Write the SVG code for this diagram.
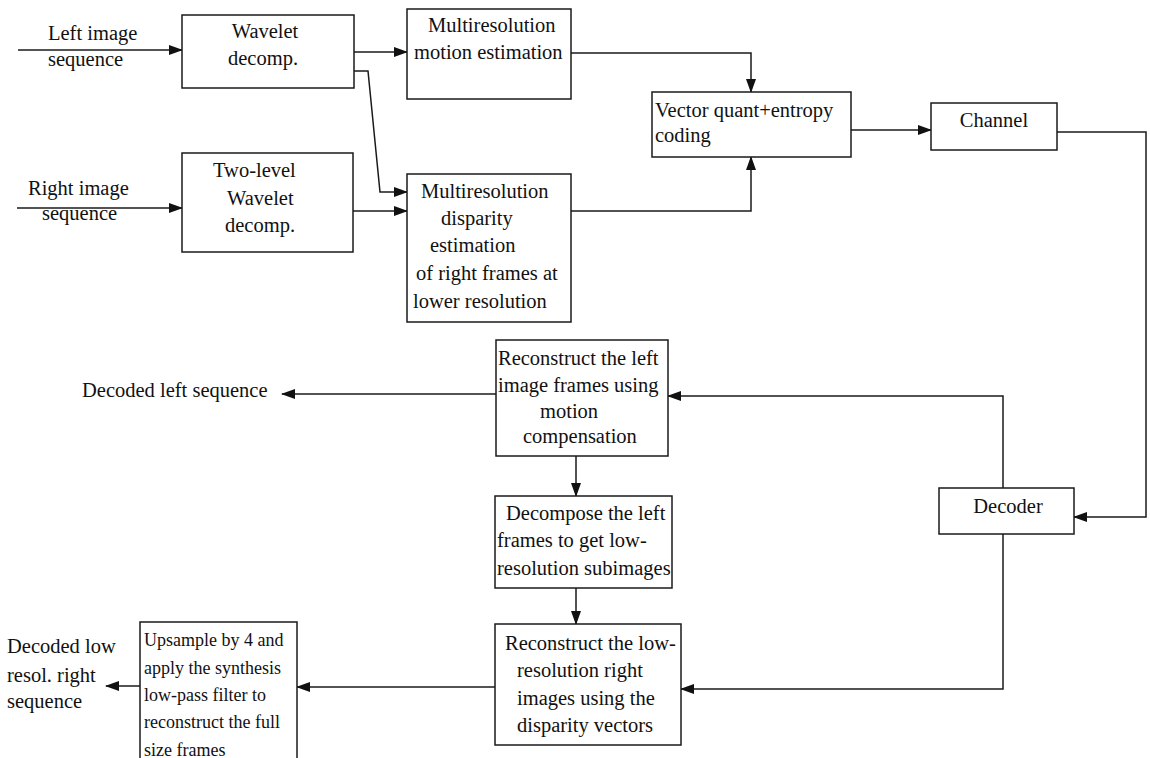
<svg xmlns="http://www.w3.org/2000/svg" width="1150" height="758" viewBox="0 0 1150 758">
  <style>
    .box { fill: #ffffff; stroke: #1a1a1a; stroke-width: 1.5; }
    .lbl { font-family: "Liberation Serif", "Times New Roman", serif; font-size: 20.5px; fill: #111111; }
    .sm { font-family: "Liberation Serif", "Times New Roman", serif; font-size: 18px; fill: #111111; }
    .mid { text-anchor: middle; }
    .wire { fill: none; stroke: #1a1a1a; stroke-width: 1.5; marker-end: url(#arrow); }
  </style>
  <defs>
    <marker id="arrow" viewBox="0 0 14 10" refX="13" refY="5" markerWidth="14" markerHeight="10" markerUnits="userSpaceOnUse" orient="auto">
      <path d="M0,0 L14,5 L0,10 Z" fill="#111111"/>
    </marker>
  </defs>
  <rect width="1150" height="758" fill="#ffffff"/>

  <!-- connectors -->
  <g id="connectors">
    <path class="wire" d="M18,50 H182"/>
    <path class="wire" d="M17,208 H182"/>
    <path class="wire" d="M354,52 H407"/>
    <path class="wire" d="M354,71 H368 L380,192 H407"/>
    <path class="wire" d="M353,211 H407"/>
    <path class="wire" d="M571,53 H751 V92"/>
    <path class="wire" d="M571,211 H751 V157"/>
    <path class="wire" d="M851,130 H931"/>
    <path class="wire" d="M1057,132 H1146 V517 H1074"/>
    <path class="wire" d="M1003,488 V396 H668"/>
    <path class="wire" d="M496,394 H282"/>
    <path class="wire" d="M576,456 V496"/>
    <path class="wire" d="M576,588 V624"/>
    <path class="wire" d="M1003,534 V689 H681"/>
    <path class="wire" d="M495,687 H297"/>
    <path class="wire" d="M140,686 H106"/>
  </g>

  <!-- free labels -->
  <g id="input-left">
    <text class="lbl" x="48" y="40">Left image</text>
    <text class="lbl" x="48" y="66">sequence</text>
  </g>
  <g id="input-right">
    <text class="lbl" x="28" y="195">Right image</text>
    <text class="lbl" x="42" y="220">sequence</text>
  </g>
  <g id="output-left">
    <text class="lbl" x="82" y="397">Decoded left sequence</text>
  </g>
  <g id="output-right">
    <text class="lbl" x="7" y="653">Decoded low</text>
    <text class="lbl" x="7" y="682">resol. right</text>
    <text class="lbl" x="7" y="708">sequence</text>
  </g>

  <!-- encoder -->
  <g id="wavelet">
    <rect class="box" x="182" y="15" width="172" height="73"/>
    <text class="lbl mid" x="265" y="38">Wavelet</text>
    <text class="lbl mid" x="263" y="65">decomp.</text>
  </g>
  <g id="two-level-wavelet">
    <rect class="box" x="182" y="153" width="171" height="99"/>
    <text class="lbl" x="213" y="177">Two-level</text>
    <text class="lbl" x="227" y="205">Wavelet</text>
    <text class="lbl" x="225" y="232">decomp.</text>
  </g>
  <g id="motion-estimation">
    <rect class="box" x="407" y="9" width="164" height="90"/>
    <text class="lbl" x="428" y="32">Multiresolution</text>
    <text class="lbl" x="414" y="59">motion estimation</text>
  </g>
  <g id="disparity-estimation">
    <rect class="box" x="407" y="174" width="164" height="148"/>
    <text class="lbl" x="421" y="198">Multiresolution</text>
    <text class="lbl" x="441" y="225">disparity</text>
    <text class="lbl" x="430" y="252">estimation</text>
    <text class="lbl" x="416" y="280">of right frames at</text>
    <text class="lbl" x="413" y="308">lower resolution</text>
  </g>
  <g id="vq-entropy">
    <rect class="box" x="652" y="92" width="199" height="65"/>
    <text class="lbl" x="655" y="117">Vector quant+entropy</text>
    <text class="lbl" x="655" y="142">coding</text>
  </g>
  <g id="channel">
    <rect class="box" x="931" y="103" width="126" height="47"/>
    <text class="lbl mid" x="994" y="127">Channel</text>
  </g>

  <!-- decoder side -->
  <g id="decoder">
    <rect class="box" x="939" y="488" width="135" height="46"/>
    <text class="lbl mid" x="1008" y="513">Decoder</text>
  </g>
  <g id="reconstruct-left">
    <rect class="box" x="496" y="340" width="172" height="116"/>
    <text class="lbl" x="498" y="365">Reconstruct the left</text>
    <text class="lbl" x="498" y="392">image frames using</text>
    <text class="lbl" x="540" y="418">motion</text>
    <text class="lbl" x="523" y="443">compensation</text>
  </g>
  <g id="decompose-left">
    <rect class="box" x="495" y="496" width="177" height="92"/>
    <text class="lbl" x="506" y="520">Decompose the left</text>
    <text class="lbl" x="497" y="547">frames to get low-</text>
    <text class="lbl" x="497" y="575">resolution subimages</text>
  </g>
  <g id="reconstruct-right">
    <rect class="box" x="495" y="624" width="186" height="121"/>
    <text class="lbl" x="505" y="650">Reconstruct the low-</text>
    <text class="lbl" x="517" y="677">resolution right</text>
    <text class="lbl" x="517" y="705">images using the</text>
    <text class="lbl" x="517" y="732">disparity vectors</text>
  </g>
  <g id="upsample">
    <rect class="box" x="140" y="622" width="157" height="150"/>
    <text class="sm" x="144" y="646">Upsample by 4 and</text>
    <text class="sm" x="144" y="674">apply the synthesis</text>
    <text class="sm" x="144" y="701">low-pass filter to</text>
    <text class="sm" x="144" y="728">reconstruct the full</text>
    <text class="sm" x="144" y="756">size frames</text>
  </g>
</svg>
